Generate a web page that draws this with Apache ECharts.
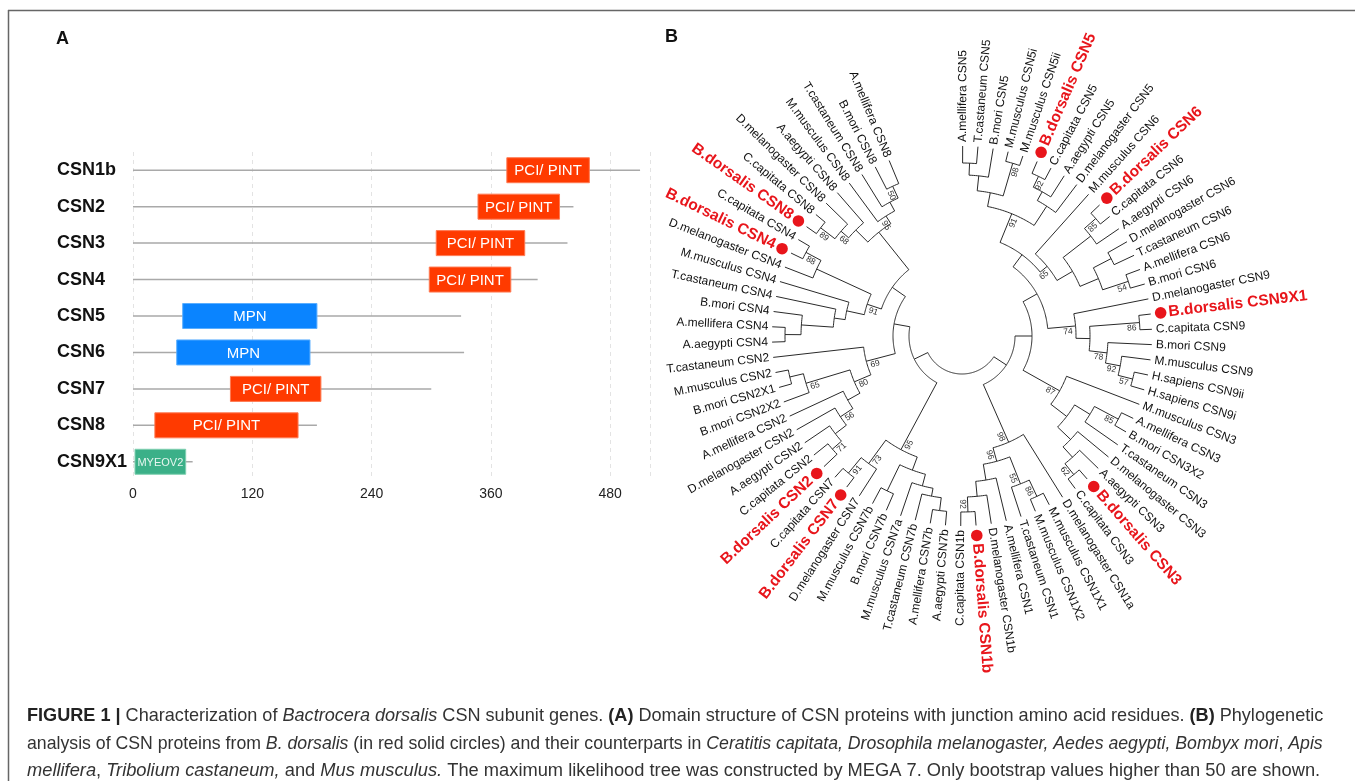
<!DOCTYPE html>
<html>
<head>
<meta charset="utf-8">
<script src="https://cdn.jsdelivr.net/npm/echarts@6/dist/echarts.min.js"></script>
<style>html,body{margin:0;padding:0;background:#fff}#chart{width:1355px;height:781px}</style>
</head>
<body>
<div id="chart"></div>
<script>
// ---------- Panel A : domain structure ----------
const proteins = ['CSN1b','CSN2','CSN3','CSN4','CSN5','CSN6','CSN7','CSN8','CSN9X1'];
const proteinLength = [510, 443, 437, 407, 330, 333, 300, 185, 60];
const domainStart = [376, 347, 305, 298, 50, 44, 98, 22, 2];
const domainEnd = [459, 429, 394, 380, 185, 178, 189, 166, 53];
const domainName = ['PCI/ PINT','PCI/ PINT','PCI/ PINT','PCI/ PINT','MPN','MPN','PCI/ PINT','PCI/ PINT','MYEOV2'];
const xTickLabels = [0, 120, 240, 360, 480];

// ---------- Panel B : phylogenetic tree ----------
const leafNames = [
'A.mellifera CSN5','T.castaneum CSN5','B.mori CSN5','M.musculus CSN5i','M.musculus CSN5ii','B.dorsalis CSN5','C.capitata CSN5','A.aegypti CSN5','D.melanogaster CSN5',
'M.musculus CSN6','B.dorsalis CSN6','C.capitata CSN6','A.aegypti CSN6','D.melanogaster CSN6','T.castaneum CSN6','A.mellifera CSN6','B.mori CSN6',
'D.melanogaster CSN9','B.dorsalis CSN9X1','C.capitata CSN9','B.mori CSN9','M.musculus CSN9','H.sapiens CSN9ii','H.sapiens CSN9i',
'M.musculus CSN3','A.mellifera CSN3','B.mori CSN3X2','T.castaneum CSN3','D.melanogaster CSN3','A.aegypti CSN3','B.dorsalis CSN3','C.capitata CSN3',
'D.melanogaster CSN1a','M.musculus CSN1X1','M.musculus CSN1X2','T.castaneum CSN1','A.mellifera CSN1','D.melanogaster CSN1b','B.dorsalis CSN1b','C.capitata CSN1b',
'A.aegypti CSN7b','A.mellifera CSN7b','T.castaneum CSN7b','M.musculus CSN7a','B.mori CSN7b','M.musculus CSN7b','D.melanogaster CSN7','B.dorsalis CSN7','C.capitata CSN7',
'B.dorsalis CSN2','C.capitata CSN2','A.aegypti CSN2','D.melanogaster CSN2','A.mellifera CSN2','B.mori CSN2X2','B.mori CSN2X1','M.musculus CSN2','T.castaneum CSN2',
'A.aegypti CSN4','A.mellifera CSN4','B.mori CSN4','T.castaneum CSN4','M.musculus CSN4','D.melanogaster CSN4','B.dorsalis CSN4','C.capitata CSN4',
'B.dorsalis CSN8','C.capitata CSN8','D.melanogaster CSN8','A.aegypti CSN8','M.musculus CSN8','T.castaneum CSN8','B.mori CSN8','A.mellifera CSN8'];
// clades: [first leaf, last leaf, node depth from centre, bootstrap (0 = not shown)]
const clades = [
[0,73,38,0],
[0,39,53,0],[0,31,70,0],[0,23,86,0],[0,16,101,0],
[0,8,132,91],[0,4,146,0],[0,2,161,0],[0,1,173,0],[3,4,180,98],[5,8,155,0],[5,7,165,0],[5,6,177,92],
[9,16,110,65],[10,16,128,0],[10,12,163,0],[10,11,178,85],[13,16,148,0],[13,14,168,0],[15,16,175,54],
[17,23,114,74],[18,23,128,0],[18,19,178,86],[20,23,146,78],[21,23,161,92],[22,23,176,57],
[24,31,112,87],[25,31,132,0],[25,27,150,0],[25,26,177,85],[28,31,150,0],[29,31,164,0],[30,31,178,62],
[32,39,116,98],[33,39,130,96],[33,35,159,55],[33,34,177,86],[36,39,146,0],[37,39,161,0],[38,39,176,92],
[40,73,53,0],
[40,48,129,95],[40,45,143,0],[40,43,155,0],[40,42,163,0],[40,41,176,0],[44,45,172,0],[46,48,158,73],[47,48,178,91],
[49,73,69,0],
[49,57,99,69],[49,56,117,80],[49,53,131,0],[49,52,146,56],[49,51,160,0],[49,50,172,71],[54,56,163,65],[55,56,177,0],
[58,73,85,0],
[58,65,100,91],[58,62,118,0],[58,61,129,0],[58,60,161,0],[58,59,177,0],[63,65,160,0],[64,65,177,88],
[66,73,133,0],[66,69,150,0],[66,68,160,68],[66,67,178,89],[70,73,142,95],[71,73,152,0],[72,73,165,50]
];
const leafDepth = 190;

// ---------- build tree ----------
const nLeaves = leafNames.length;
const nodes = clades.map(c => ({first:c[0], last:c[1], depth:c[2], bs:c[3], kids:[]}));
const sz = n => n.last - n.first;
let root = nodes[0];
nodes.forEach(n => { if (sz(n) > sz(root)) root = n; });
nodes.forEach(n => {
  if (n === root) return;
  let best = null;
  nodes.forEach(p => {
    if (p === n) return;
    if (p.first <= n.first && p.last >= n.last && sz(p) > sz(n)) {
      if (!best || sz(p) < sz(best)) best = p;
    }
  });
  best.kids.push({node:n, key:n.first});
});
for (let i = 0; i < nLeaves; i++) {
  let best = null;
  nodes.forEach(p => { if (p.first <= i && p.last >= i) { if (!best || sz(p) < sz(best)) best = p; } });
  best.kids.push({leaf:i, key:i});
}
function angleOf(k) { return k.leaf !== undefined ? k.leaf : nodeAngle(k.node); }
function nodeAngle(n) {
  if (n.angle !== undefined) return n.angle;
  n.kids.sort((a,b) => a.key - b.key);
  n.kids.forEach(k => angleOf(k));
  n.a0 = angleOf(n.kids[0]);
  n.a1 = angleOf(n.kids[n.kids.length-1]);
  n.angle = (n.a0 + n.a1) / 2;
  return n.angle;
}
nodeAngle(root);
const marks = [];
nodes.forEach(n => {
  marks.push({kind:'arc', r:n.depth, a0:n.a0, a1:n.a1});
  n.kids.forEach(k => {
    if (k.leaf !== undefined) {
      marks.push({kind:'radial', a:k.leaf, r0:n.depth, r1:leafDepth});
      marks.push({kind:'leaf', i:k.leaf});
    } else {
      marks.push({kind:'radial', a:k.node.angle, r0:n.depth, r1:k.node.depth});
    }
  });
  if (n.bs) marks.push({kind:'bs', r:n.depth, a:n.angle, v:n.bs});
});

// ---------- renderers ----------
const FONT = '"Liberation Sans", Arial, sans-serif';
const domainColor = {'PCI/ PINT':['#ff3a00','#ff7a52'], 'MPN':['#0a84ff','#5aaeff'], 'MYEOV2':['#3bb088','#7fcfb0']};

function renderDomain(params, api) {
  const i = params.dataIndex;
  const p0 = api.coord([0, i]);
  const p1 = api.coord([proteinLength[i], i]);
  const d0 = api.coord([domainStart[i], i])[0];
  const d1 = api.coord([domainEnd[i], i])[0];
  const h = 25;
  const col = domainColor[domainName[i]];
  const small = domainName[i] === 'MYEOV2';
  return {type:'group', children:[
    {type:'line', shape:{x1:p0[0], y1:p0[1], x2:p1[0], y2:p1[1]}, style:{stroke:'#a9a9a9', lineWidth:1.5}},
    {type:'rect', shape:{x:d0, y:p0[1]-h/2, width:d1-d0, height:h}, style:{fill:col[0], stroke:col[1], lineWidth:1}},
    {type:'text', x:(d0+d1)/2, y:p0[1]+1, style:{text:domainName[i], fill: small ? '#e6f6ef' : '#ffffff',
      font:(small ? '11px ' : '15px ') + FONT, align:'center', verticalAlign:'middle', textAlign:'center', textVerticalAlign:'middle'}}
  ]};
}

function radialFrame(api, r, a) {
  const c = api.coord([0, a]);
  const p = api.coord([r, a]);
  const dx = p[0]-c[0], dy = p[1]-c[1];
  const len = Math.hypot(dx, dy) || 1;
  const phi = Math.atan2(-dy, dx);
  const right = Math.cos(phi) > -0.001;
  return {p, ux:dx/len, uy:dy/len, rot: right ? phi : phi - Math.PI, align: right ? 'left' : 'right', right};
}

function textEl(x, y, rot, text, align, font, fill) {
  return {type:'text', x:x, y:y, rotation:rot, silent:true,
    style:{text:text, x:0, y:0, align:align, verticalAlign:'middle', textAlign:align, textVerticalAlign:'middle', font:font, fill:fill}};
}

function renderTree(params, api) {
  const m = marks[params.dataIndex];
  const ls = {stroke:'#2a2a2a', lineWidth:1, fill:'none'};
  if (m.kind === 'radial') {
    const a = api.coord([m.r0, m.a]), b = api.coord([m.r1, m.a]);
    return {type:'line', silent:true, shape:{x1:a[0], y1:a[1], x2:b[0], y2:b[1]}, style:ls};
  }
  if (m.kind === 'arc') {
    const steps = Math.max(2, Math.ceil(Math.abs(m.a1 - m.a0) * 6));
    const pts = [];
    for (let k = 0; k <= steps; k++) pts.push(api.coord([m.r, m.a0 + (m.a1 - m.a0) * k / steps]));
    return {type:'polyline', silent:true, shape:{points:pts}, style:ls};
  }
  if (m.kind === 'leaf') {
    const name = leafNames[m.i];
    if (name.indexOf('B.dorsalis') === 0) {
      const d = api.coord([leafDepth + 10, m.i]);
      const f = radialFrame(api, leafDepth + 18, m.i);
      return {type:'group', children:[
        {type:'circle', silent:true, shape:{cx:d[0], cy:d[1], r:5.8}, style:{fill:'#e8151b'}},
        textEl(f.p[0], f.p[1], f.rot, name, f.align, 'bold 15.5px ' + FONT, '#e8151b')
      ]};
    }
    const f = radialFrame(api, leafDepth + 4, m.i);
    return textEl(f.p[0], f.p[1], f.rot, name, f.align, '12px ' + FONT, '#111');
  }
  if (m.kind === 'bs') {
    const f = radialFrame(api, m.r - 8, m.a);
    // placed just below the branch in the label's reading frame
    const s = f.right ? 1 : -1;
    const tx = -f.uy * s, ty = f.ux * s;
    return textEl(f.p[0] + tx*5, f.p[1] + ty*5, f.rot, String(m.v), 'center', '8.5px ' + FONT, '#333');
  }
  return null;
}

// ---------- caption ----------
const captionSize = [18.1, 17.7, 18.3];
function capRich(sz) {
  return {
    b:{fontWeight:'bold', fontSize:sz, fontFamily:FONT, fill:'#222'},
    i:{fontStyle:'italic', fontSize:sz, fontFamily:FONT, fill:'#333'},
    n:{fontSize:sz, fontFamily:FONT, fill:'#333'}
  };
}
const captionLines = [
  '{b|FIGURE 1 |}{n| Characterization of }{i|Bactrocera dorsalis}{n| CSN subunit genes. }{b|(A)}{n| Domain structure of CSN proteins with junction amino acid residues. }{b|(B)}{n| Phylogenetic}',
  '{n|analysis of CSN proteins from }{i|B. dorsalis}{n| (in red solid circles) and their counterparts in }{i|Ceratitis capitata, Drosophila melanogaster, Aedes aegypti, Bombyx mori}{n|, }{i|Apis}',
  '{i|mellifera}{n|, }{i|Tribolium castaneum,}{n| and }{i|Mus musculus.}{n| The maximum likelihood tree was constructed by MEGA 7. Only bootstrap values higher than 50 are shown.}'
];
const captionY = [716, 744, 771];

const chart = echarts.init(document.getElementById('chart'), null, {renderer:'canvas'});
chart.setOption({
  animation:false,
  backgroundColor:'#ffffff',
  grid:{left:133, top:152, width:517, height:328},
  xAxis:{type:'value', min:0, max:520, interval:120,
    axisLine:{show:false}, axisTick:{show:false},
    splitLine:{show:true, lineStyle:{type:[4,4], color:'#e3e3e3', width:1}},
    axisLabel:{fontSize:14, color:'#222', margin:7, fontFamily:FONT,
      formatter: v => xTickLabels.indexOf(v) >= 0 ? String(v) : ''}},
  yAxis:{type:'category', data:proteins, inverse:true,
    axisLine:{show:false}, axisTick:{show:false}, splitLine:{show:false},
    axisLabel:{align:'left', margin:76, fontWeight:'bold', fontSize:18, color:'#111', fontFamily:FONT}},
  polar:{center:[962,336], radius:240},
  angleAxis:{type:'value', min:0, max:360/4.62, startAngle:89.8, clockwise:true, show:false},
  radiusAxis:{type:'value', min:0, max:240, show:false},
  series:[
    {type:'custom', coordinateSystem:'cartesian2d', renderItem:renderDomain,
      data: proteins.map((p,i) => [proteinLength[i], i]), silent:true, clip:false},
    {type:'custom', coordinateSystem:'polar', renderItem:renderTree,
      data: marks.map(m => [m.r !== undefined ? m.r : leafDepth, m.a !== undefined ? m.a : (m.i !== undefined ? m.i : m.a0)]), silent:true}
  ],
  graphic:[
    {type:'line', shape:{x1:8, y1:10.5, x2:1355, y2:10.5}, style:{stroke:'#666', lineWidth:1.5}, silent:true},
    {type:'line', shape:{x1:8.5, y1:10, x2:8.5, y2:781}, style:{stroke:'#666', lineWidth:1.5}, silent:true},
    {type:'text', x:56, y:39, style:{text:'A', font:'bold 18px ' + FONT, fill:'#111', verticalAlign:'middle', textVerticalAlign:'middle'}, silent:true},
    {type:'text', x:665, y:37, style:{text:'B', font:'bold 18px ' + FONT, fill:'#111', verticalAlign:'middle', textVerticalAlign:'middle'}, silent:true}
  ].concat(captionLines.map((t, k) => ({type:'text', x:27, y:captionY[k], silent:true,
    style:{text:t, rich:capRich(captionSize[k]), fontSize:captionSize[k], fontFamily:FONT, fill:'#333', verticalAlign:'middle', textVerticalAlign:'middle'}})))
});
</script>
</body>
</html>
